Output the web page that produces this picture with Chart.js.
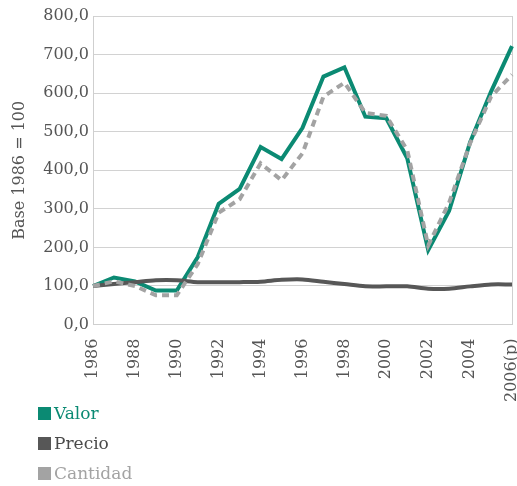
<!DOCTYPE html>
<html>
<head>
<meta charset="utf-8">
<script src="https://cdn.jsdelivr.net/npm/chart.js@4.4.1/dist/chart.umd.min.js"></script>
<style>
  html, body { margin: 0; background: #fff; overflow: hidden; }
  #wrap { position: relative; width: 517px; height: 416px; }
  #legend { position: absolute; left: 38px; top: 398px; font-family: "DejaVu Serif", serif; font-size: 17px; }
  #legend div { height: 30px; display: flex; align-items: center; }
  #legend span.box { display: inline-block; width: 13px; height: 13px; margin-right: 3px; }
</style>
</head>
<body>
<div id="wrap"><canvas id="myChart"></canvas></div>
<div id="legend"></div>
<script>
"use strict";
const years = ["1986", "1987", "1988", "1989", "1990", "1991", "1992", "1993", "1994", "1995", "1996",
  "1997", "1998", "1999", "2000", "2001", "2002", "2003", "2004", "2005", "2006(p)"];
const valor = [100, 122, 112, 88, 88, 175, 313, 352, 460, 429, 510, 643, 667, 539, 535, 431, 193, 295, 473, 604, 722];
const precio = [100, 105, 110, 115, 115, 110, 110, 110, 111, 116, 117, 111, 105, 99, 99, 99, 93, 93, 99, 104, 104];
const cantidad = [100, 112, 100, 76, 76, 157, 290, 325, 418, 374, 444, 591, 627, 549, 541, 452, 205, 316, 470, 591, 648];
const yTicks = [0, 100, 200, 300, 400, 500, 600, 700, 800];

const green = "#0b8a73";
const dark = "#575757";
const light = "#a3a3a3";
const font = "'DejaVu Serif', serif";

const series = [
  { label: "Valor", data: valor, color: green, text: green, dash: [] },
  { label: "Precio", data: precio, color: dark, text: "#4a4a4a", dash: [] },
  { label: "Cantidad", data: cantidad, color: light, text: light, dash: [7, 5] }
];

var ctx = document.getElementById("myChart").getContext("2d");
var chart = new Chart(ctx, {
  type: "line",
  data: {
    labels: years,
    datasets: series.slice().reverse().map(s => ({
      label: s.label,
      data: s.data,
      borderColor: s.color,
      backgroundColor: s.color,
      borderWidth: 4,
      borderDash: s.dash,
      pointRadius: 0,
      tension: s.label === "Precio" ? 0.3 : 0
    }))
  },
  options: {
    responsive: true,
    maintainAspectRatio: false,
    animation: false,
    layout: { padding: { left: 10, right: 5, top: 16, bottom: 0 } },
    plugins: { legend: { display: false }, tooltip: { enabled: false } },
    scales: {
      x: {
        // the rotated last label reserves too much room on the right
        afterFit: scale => { scale.paddingRight = 0; },
        grid: {
          drawTicks: false,
          color: c => (c.index === 0 || c.index === years.length - 1) ? "#cfcfcf" : "rgba(0,0,0,0)"
        },
        border: { color: "#cfcfcf" },
        ticks: {
          autoSkip: false,
          maxRotation: 90,
          minRotation: 90,
          padding: 14,
          color: "#555",
          font: { family: font, size: 16 },
          callback: function (v, i) { return i % 2 === 0 ? years[i] : ""; }
        }
      },
      y: {
        min: 0,
        max: 800,
        afterBuildTicks: axis => { axis.ticks = yTicks.map(v => ({ value: v })); },
        grid: { drawTicks: false, color: "#d2d2d2" },
        border: { color: "#cfcfcf" },
        ticks: {
          padding: 4,
          color: "#555",
          font: { family: font, size: 16 },
          callback: v => v.toFixed(1).replace(".", ",")
        },
        title: {
          display: true,
          text: "Base 1986 = 100",
          color: "#555",
          font: { family: font, size: 16 },
          padding: { top: 0, bottom: 10 }
        }
      }
    }
  }
});

const legend = document.getElementById("legend");
series.forEach(s => {
  const row = document.createElement("div");
  row.innerHTML = `<span class="box" style="background:${s.color}"></span><span style="color:${s.text}">${s.label}</span>`;
  legend.appendChild(row);
});
</script>
</body>
</html>
